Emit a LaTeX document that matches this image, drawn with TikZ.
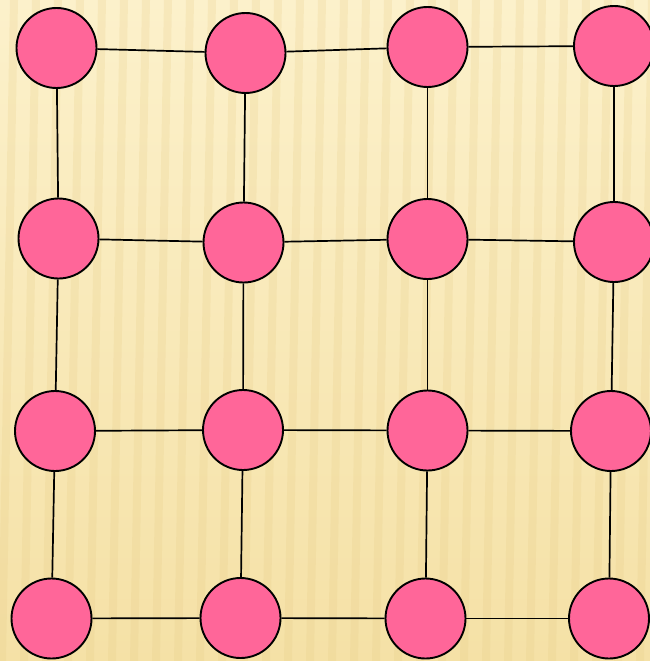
\documentclass[tikz,border=0pt]{standalone}
\usepackage{tikz}
\definecolor{bgtop}{HTML}{FCF1CB}
\definecolor{bgbot}{HTML}{F5E1A6}
\definecolor{stripe}{HTML}{E6CB85}
\definecolor{nodepink}{HTML}{FF6699}
\tikzset{
  vert/.style={circle, draw=black, line width=1.9pt, fill=nodepink, minimum size=80pt, inner sep=0pt},
  link/.style={draw=black, line width=1.7pt}
}
\begin{document}
\begin{tikzpicture}[x=1pt,y=-1pt]
\useasboundingbox (0,0) rectangle (650,661);
\shade[top color=bgtop, bottom color=bgbot] (0,0) rectangle (650,661);
\begin{scope}
\clip (0,0) rectangle (650,661);
\foreach \i in {-2,...,32} {
  \fill[stripe, opacity=0.22] ({\i*22+10},0) -- ({\i*22+18},0) -- ({\i*22+6},661) -- ({\i*22-2},661) -- cycle;
}
\end{scope}
% nodes
\node[vert] (n11) at (56.5,48) {};
\node[vert] (n12) at (245.5,53) {};
\node[vert] (n13) at (427.5,47) {};
\node[vert] (n14) at (614,46) {};
\node[vert] (n21) at (58.5,238.5) {};
\node[vert] (n22) at (243.5,242.5) {};
\node[vert] (n23) at (427.5,239) {};
\node[vert] (n24) at (614,242) {};
\node[vert] (n31) at (55,431) {};
\node[vert] (n32) at (243,430) {};
\node[vert] (n33) at (427.5,430.5) {};
\node[vert] (n34) at (611,431) {};
\node[vert] (n41) at (51.5,618.5) {};
\node[vert] (n42) at (240.5,618) {};
\node[vert] (n43) at (425.5,618.5) {};
\node[vert] (n44) at (609,618.5) {};
% horizontal links
\foreach \r in {1,2,3,4} {
  \path[link] (n\r1) -- (n\r2);
  \path[link] (n\r2) -- (n\r3);
  \path[link] (n\r3) -- (n\r4);
}
% vertical links
\foreach \c in {1,2,3,4} {
  \path[link] (n1\c) -- (n2\c);
  \path[link] (n2\c) -- (n3\c);
  \path[link] (n3\c) -- (n4\c);
}
\end{tikzpicture}
\end{document}
